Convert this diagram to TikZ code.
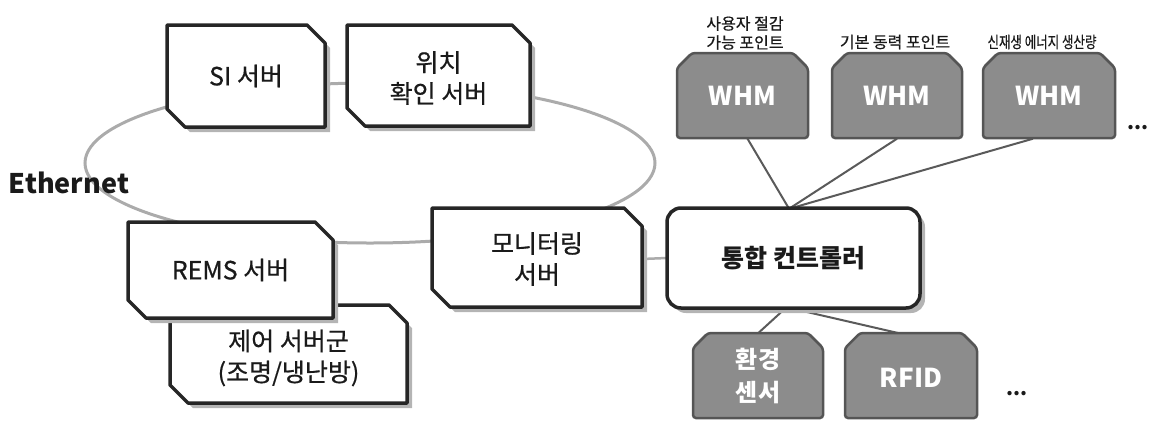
\documentclass[tikz,border=0pt]{standalone}
\usepackage{fontspec}
\setmainfont{Noto Sans CJK KR}
\newfontfamily\medfont{Noto Sans CJK KR}[FakeBold=0.6]
\pgfdeclarelayer{back}
\pgfdeclarelayer{mid}
\pgfsetlayers{back,mid,main}
\definecolor{edgec}{HTML}{262626}
\definecolor{shadec}{HTML}{B4B4B4}
\definecolor{etherc}{HTML}{ABABAB}
\definecolor{gfillc}{HTML}{8C8C8C}
\definecolor{gedgec}{HTML}{555555}
\definecolor{wirec}{HTML}{5A5A5A}
\definecolor{textc}{HTML}{1A1A1A}
% white box, chamfered at north east and south west
\newcommand\chamA[5]{%
  \fill[shadec] (#1+5,#2+5) -- (#3-#5+5,#2+5) -- (#3+5,#2+#5+5) -- (#3+5,#4+5) -- (#1+#5+5,#4+5) -- (#1+5,#4-#5+5) -- cycle;
  \filldraw[fill=white, draw=edgec, line width=3.5pt, line join=round] (#1,#2) -- (#3-#5,#2) -- (#3,#2+#5) -- (#3,#4) -- (#1+#5,#4) -- (#1,#4-#5) -- cycle;}
% grey box, chamfered at both top corners
\newcommand\chamB[5]{%
  \filldraw[fill=gfillc, draw=gedgec, line width=2.5pt, rounded corners=3pt] (#1+#5,#2) -- (#3-#5,#2) -- (#3,#2+#5) -- (#3,#4) -- (#1,#4) -- (#1,#2+#5) -- cycle;}
\begin{document}
\begin{tikzpicture}[x=1pt,y=-1pt,
  btxt/.style={font=\medfont\fontsize{25}{31}\selectfont, align=center, inner sep=0pt, text=textc},
  wtxt/.style={font=\bfseries\fontsize{26}{33}\selectfont, align=center, inner sep=0pt, text=white},
  small/.style={font=\medfont\fontsize{16}{19}\selectfont, align=center, inner sep=0pt, text=textc},
  wire/.style={draw=wirec, line width=2pt},
  ethline/.style={draw=etherc, line width=3pt}]
\useasboundingbox (0,0) rectangle (1156,421);

% text nodes
\node[font=\bfseries\fontsize{27}{32}\selectfont, inner sep=0pt, text=textc] (eth) at (69,183) {Ethernet};
\node[btxt, minimum width=158pt, minimum height=102pt] (si) at (246,76) {SI 서버};
\node[btxt, minimum width=183pt, minimum height=102pt] (loc) at (438.5,78) {위치\\확인 서버};
\node[btxt, minimum width=205pt, minimum height=96pt] (rems) at (230.5,270) {REMS 서버};
\node[btxt] (grp) at (288.5,358) {제어 서버군\\(조명/냉난방)};
\node[btxt, minimum width=210pt, minimum height=99pt] (mon) at (537,259) {모니터링\\서버};
\node[btxt, font=\bfseries\fontsize{25}{31}\selectfont, minimum width=253pt, minimum height=100pt] (ctl) at (793.5,258) {통합 컨트롤러};

\node[wtxt, minimum width=131pt, minimum height=85pt] (whm1) at (742.5,96) {WHM};
\node[wtxt, minimum width=130pt, minimum height=85pt] (whm2) at (897,96) {WHM};
\node[wtxt, minimum width=132pt, minimum height=85pt] (whm3) at (1049,96) {WHM};
\node[small] (lab1) at (745,33) {사용자 절감\\가능 포인트};
\node[small] (lab2) at (895,42) {기본 동력 포인트};
\node[small] (lab3) at (1042,42) {\scalebox{0.78}[1]{신재생 에너지 생산량}};
\node[font=\bfseries\fontsize{20}{22}\selectfont, inner sep=0pt, text=textc] (dots1) at (1138,128) {...};

\node[wtxt, font=\bfseries\fontsize{24}{33}\selectfont, minimum width=130pt, minimum height=85pt] (env) at (758,376) {환경\\센서};
\node[wtxt, minimum width=132pt, minimum height=85pt] (rfid) at (911,378) {RFID};
\node[font=\bfseries\fontsize{20}{22}\selectfont, inner sep=0pt, text=textc] (dots2) at (1017,394) {...};

% box outlines
\begin{pgfonlayer}{mid}
  \chamA{170}{305}{407}{403}{18}
  \chamA{128}{222}{333}{318}{18}
  \chamA{167}{25}{325}{127}{18}
  \chamA{347}{25}{530}{126}{18}
  \chamA{432}{208}{642}{307}{18}
  \fill[shadec, rounded corners=14pt] (672,213) rectangle (925,313);
  \filldraw[fill=white, draw=edgec, line width=3.5pt, rounded corners=14pt] (667,208) rectangle (920,308);
  \chamB{677}{53}{808}{138}{15}
  \chamB{832}{53}{962}{138}{15}
  \chamB{983}{53}{1115}{138}{15}
  \chamB{693}{333}{823}{418}{15}
  \chamB{845}{333}{977}{418}{15}
\end{pgfonlayer}

% network and connectors
\begin{pgfonlayer}{back}
  \draw[ethline] (370,163) ellipse [x radius=285pt, y radius=80pt];
  \draw[ethline, line width=2.5pt] (mon.east) -- (ctl.west);
  \draw[wire] ([xshift=5pt]whm1.south) -- ([xshift=-5pt]ctl.north);
  \draw[wire] (whm2.south) -- ([xshift=-3pt]ctl.north);
  \draw[wire] ([xshift=-16pt]whm3.south) -- ([xshift=-1pt]ctl.north);
  \draw[wire] ([xshift=-8pt]ctl.south) -- (env.north);
  \draw[wire] ([xshift=-3pt]ctl.south) -- ([xshift=-3pt]rfid.north);
\end{pgfonlayer}
\end{tikzpicture}
\end{document}
